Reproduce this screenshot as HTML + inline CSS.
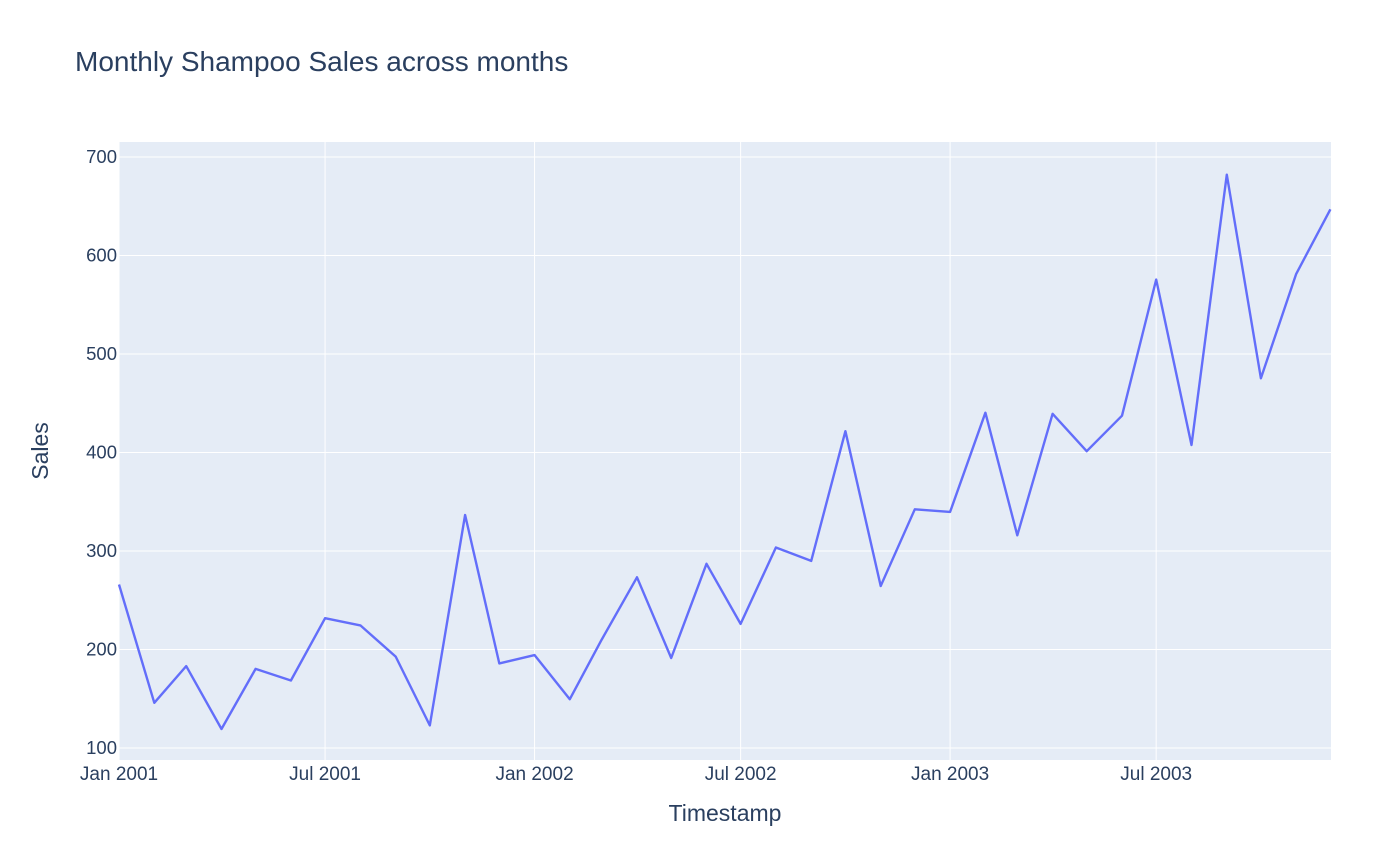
<!DOCTYPE html>
<html><head><meta charset="utf-8"><style>
body{margin:0;background:#fff;font-family:"Liberation Sans",sans-serif}
svg text{fill:#2a3f5f;font-family:"Liberation Sans",sans-serif}
</style></head><body>
<svg id="c" width="1400" height="857"></svg>
<script>
const sales=[266.0,145.9,183.1,119.3,180.3,168.5,231.8,224.5,192.8,122.9,336.5,185.9,194.3,149.5,210.1,273.3,191.4,287.0,226.0,303.6,289.9,421.6,264.5,342.3,339.7,440.4,315.9,439.3,401.3,437.4,575.5,407.6,682.0,475.3,581.3,646.9];
const yTicks=[100,200,300,400,500,600,700];
const xTickLabels=["Jan 2001","Jul 2001","Jan 2002","Jul 2002","Jan 2003","Jul 2003"];
const xTickDates=["2001-01-01","2001-07-01","2002-01-01","2002-07-01","2003-01-01","2003-07-01"];
const svg=document.getElementById('c');const NS='http://www.w3.org/2000/svg';
const L=119,R=1331,T=142,B=760;
const d0=Date.UTC(2001,0,1),pxDay=1.1385;
function x(ms){return L+(ms-d0)/86400000*pxDay;}
function y(v){return 748-(v-100)*0.985;}
function mk(t,a,p){const e=document.createElementNS(NS,t);for(const k in a)e.setAttribute(k,a[k]);(p||svg).appendChild(e);return e;}
const bg=mk('rect',{x:L,y:T,width:R-L,height:B-T,fill:'#e5ecf6'});


yTicks.forEach(v=>{
 const g=mk('line',{x1:L,x2:R,y1:y(v),y2:y(v),stroke:'#fff','stroke-width':1});
 
 
 const t=mk('text',{x:L-2,y:y(v)+6,'text-anchor':'end','font-size':18.5});t.textContent=v;
 
 
});
xTickDates.forEach((d,i)=>{
 const [yy,mm,dd]=d.split('-').map(Number);const px=x(Date.UTC(yy,mm-1,dd));
 const g=mk('line',{x1:px,x2:px,y1:T,y2:B,stroke:'#fff','stroke-width':1});
 
 
 const t=mk('text',{x:px,y:780,'text-anchor':'middle','font-size':19});t.textContent=xTickLabels[i];
 
 
});
const pts=sales.map((v,i)=>x(Date.UTC(2001,i,1)).toFixed(1)+','+y(v).toFixed(1)).join(' ');
const line=mk('polyline',{points:pts,fill:'none',stroke:'#636efa','stroke-width':2.4,'stroke-linejoin':'round'});


const ti=mk('text',{x:75,y:71,'font-size':28});ti.textContent='Monthly Shampoo Sales across months';


const xt=mk('text',{x:725,y:821,'text-anchor':'middle','font-size':23});xt.textContent='Timestamp';


const yt=mk('text',{x:0,y:0,'text-anchor':'middle','font-size':23,transform:'translate(48,451) rotate(-90)'});yt.textContent='Sales';


</script>
</body></html>
